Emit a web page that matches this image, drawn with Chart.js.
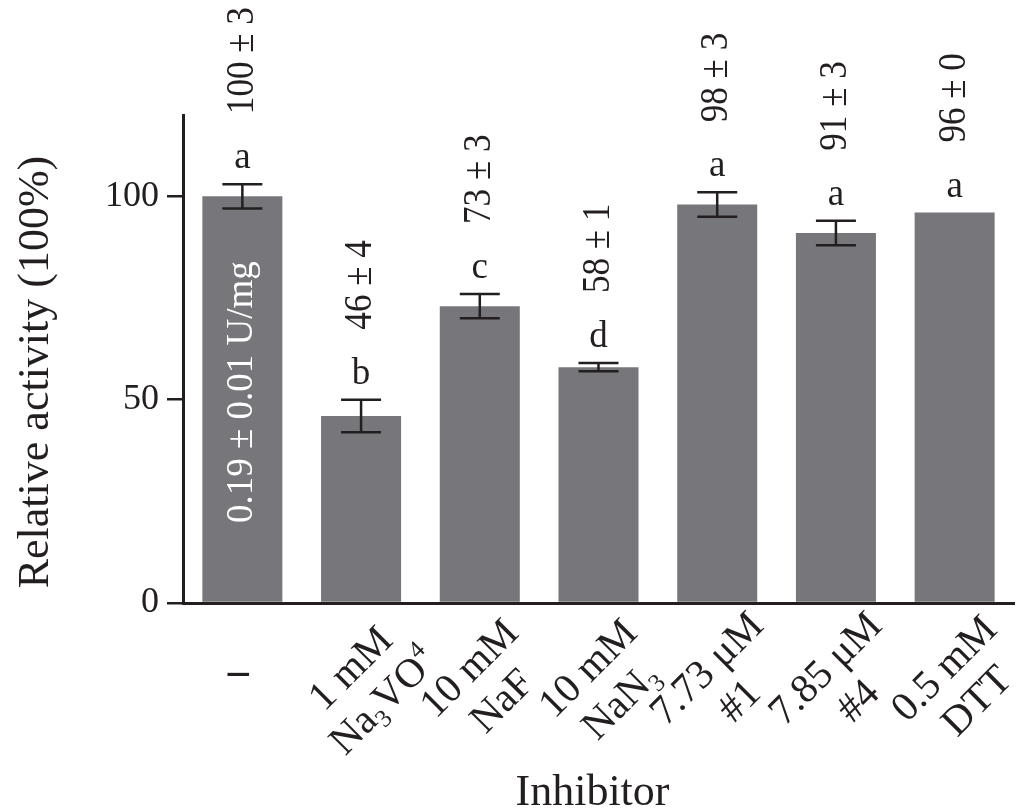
<!DOCTYPE html>
<html>
<head>
<meta charset="utf-8">
<script src="https://cdn.jsdelivr.net/npm/chart.js@4.4.1/dist/chart.umd.min.js"></script>
<style>
  html, body { margin: 0; padding: 0; background: #fff; }
  canvas { display: block; }
</style>
</head>
<body>
<canvas id="activityChart" width="1021" height="810"></canvas>
<script>
// Inhibitor labels, two lines per bar ("_3" = subscript, "^4" = superscript)
const inhibitorLine1 = ['–', '1 mM', '10 mM', '10 mM', '7.73 μM', '7.85 μM', '0.5 mM'];
const inhibitorLine2 = ['', 'Na_3VO^4', 'NaF', 'NaN_3', '#1', '#4', 'DTT'];

// Relative activity (%) and its SD
const activity = [100, 46, 73, 58, 98, 91, 96];
const activityErr = [3, 4, 3, 1, 3, 3, 0];
const groupLetters = ['a', 'b', 'c', 'd', 'a', 'a', 'a'];

const yTicks = [0, 50, 100];
const controlLabel = '0.19 ± 0.01 U/mg';

const SERIF = '"Liberation Serif", "Times New Roman", serif';
const INK = '#231f20';

// split "Na_3VO^4" into normal / sub / sup pieces
function richParts(str) {
  const parts = [];
  const re = /([_^])(\d+)/g;
  let last = 0, m;
  while ((m = re.exec(str)) !== null) {
    if (m.index > last) parts.push({ t: str.slice(last, m.index), k: 0 });
    parts.push({ t: m[2], k: m[1] === '_' ? -1 : 1 });
    last = re.lastIndex;
  }
  if (last < str.length) parts.push({ t: str.slice(last), k: 0 });
  return parts;
}

// draws rich text centred on (0,0) of the current transform
function drawRich(ctx, str, size) {
  const parts = richParts(str);
  const small = Math.round(size * 0.6);
  let total = 0;
  parts.forEach(p => {
    ctx.font = `${p.k ? small : size}px ${SERIF}`;
    p.w = ctx.measureText(p.t).width;
    total += p.w;
  });
  let cx = -total / 2;
  const base = size * 0.33;
  ctx.textAlign = 'left';
  ctx.textBaseline = 'alphabetic';
  parts.forEach(p => {
    ctx.font = `${p.k ? small : size}px ${SERIF}`;
    let dy = 0;
    if (p.k < 0) dy = size * 0.2;
    if (p.k > 0) dy = -size * 0.42;
    ctx.fillText(p.t, cx, base + dy);
    cx += p.w;
  });
}

const annotations = {
  id: 'annotations',
  afterDatasetsDraw(chart) {
    const { ctx, chartArea, scales: { x, y } } = chart;
    const bars = chart.getDatasetMeta(0).data;
    ctx.save();
    ctx.strokeStyle = INK;
    ctx.fillStyle = INK;
    ctx.lineWidth = 2.5;

    bars.forEach((bar, i) => {
      const v = activity[i], e = activityErr[i];
      const top = y.getPixelForValue(v + e);
      if (e > 0) {
        const bot = y.getPixelForValue(v - e);
        ctx.beginPath();
        ctx.moveTo(bar.x, top); ctx.lineTo(bar.x, bot);
        ctx.moveTo(bar.x - 20, top); ctx.lineTo(bar.x + 20, top);
        ctx.moveTo(bar.x - 20, bot); ctx.lineTo(bar.x + 20, bot);
        ctx.stroke();
      }
      // significance letter
      const letterBase = top - 16;
      ctx.font = `37px ${SERIF}`;
      ctx.textAlign = 'center';
      ctx.textBaseline = 'alphabetic';
      ctx.fillText(groupLetters[i], bar.x, letterBase);

      // mean ± sd, written upwards
      ctx.save();
      ctx.translate(bar.x, letterBase - 54);
      ctx.rotate(-Math.PI / 2);
      ctx.scale(0.9, 1);
      ctx.font = `39px ${SERIF}`;
      ctx.textAlign = 'left';
      ctx.textBaseline = 'middle';
      ctx.fillText(`${v} ± ${e}`, 0, 0);
      ctx.restore();
    });

    // specific activity of the control, inside the first bar
    ctx.save();
    ctx.fillStyle = '#ffffff';
    ctx.font = `37px ${SERIF}`;
    ctx.translate(bars[0].x, chartArea.bottom - 80);
    ctx.rotate(-Math.PI / 2);
    ctx.textAlign = 'left';
    ctx.textBaseline = 'middle';
    ctx.fillText(controlLabel, 0, 0);
    ctx.restore();

    // category labels under the x axis
    ctx.fillStyle = INK;
    inhibitorLine1.forEach((l1, i) => {
      const px = x.getPixelForValue(i);
      const l2 = inhibitorLine2[i];
      if (!l2) {
        ctx.save();
        ctx.translate(px - 4, chartArea.bottom + 65);
        ctx.scale(1.05, 1.6);
        drawRich(ctx, l1, 40);
        ctx.restore();
        return;
      }
      const cx = px + 5, cy = chartArea.bottom + 81;
      const off = 23 * Math.SQRT1_2;
      [[l1, -off], [l2, off]].forEach(([txt, d]) => {
        ctx.save();
        ctx.translate(cx + d, cy + d);
        ctx.rotate(-Math.PI / 4);
        drawRich(ctx, txt, 41);
        ctx.restore();
      });
    });

    // axis titles
    ctx.font = `44px ${SERIF}`;
    ctx.textAlign = 'center';
    ctx.textBaseline = 'alphabetic';
    ctx.fillText('Inhibitor', (chartArea.left + chartArea.right) / 2 - 6, chartArea.bottom + 202);

    ctx.save();
    ctx.translate(chartArea.left - 135, (chartArea.top + chartArea.bottom) / 2 + 13);
    ctx.rotate(-Math.PI / 2);
    ctx.fillText('Relative activity (100%)', 0, 0);
    ctx.restore();

    ctx.restore();
  }
};

const ctx = document.getElementById('activityChart').getContext('2d');
new Chart(ctx, {
  type: 'bar',
  data: {
    labels: inhibitorLine1.map((l, i) => (l + ' ' + inhibitorLine2[i]).trim()),
    datasets: [{
      data: activity,
      backgroundColor: '#77777b',
      borderWidth: 0,
      barPercentage: 0.674,
      categoryPercentage: 1
    }]
  },
  options: {
    responsive: false,
    animation: false,
    layout: { padding: { top: 115, right: 7, left: 0, bottom: 0 } },
    plugins: {
      legend: { display: false },
      tooltip: { enabled: false }
    },
    scales: {
      x: {
        grid: { display: true, drawOnChartArea: false, drawTicks: false },
        border: { display: true, color: INK, width: 3 },
        ticks: { display: false },
        afterFit(scale) { scale.height = 207; }
      },
      y: {
        min: 0,
        max: 120,
        afterBuildTicks(scale) {
          scale.ticks = yTicks.map(v => ({ value: v }));
        },
        grid: {
          drawOnChartArea: false,
          drawTicks: true,
          tickLength: 16,
          color: INK,
          lineWidth: 2.5
        },
        border: { display: true, color: INK, width: 3 },
        ticks: {
          color: INK,
          padding: 8,
          font: { family: SERIF, size: 36 }
        },
        afterFit(scale) { scale.width = 183; }
      }
    }
  },
  plugins: [annotations]
});
</script>
</body>
</html>
